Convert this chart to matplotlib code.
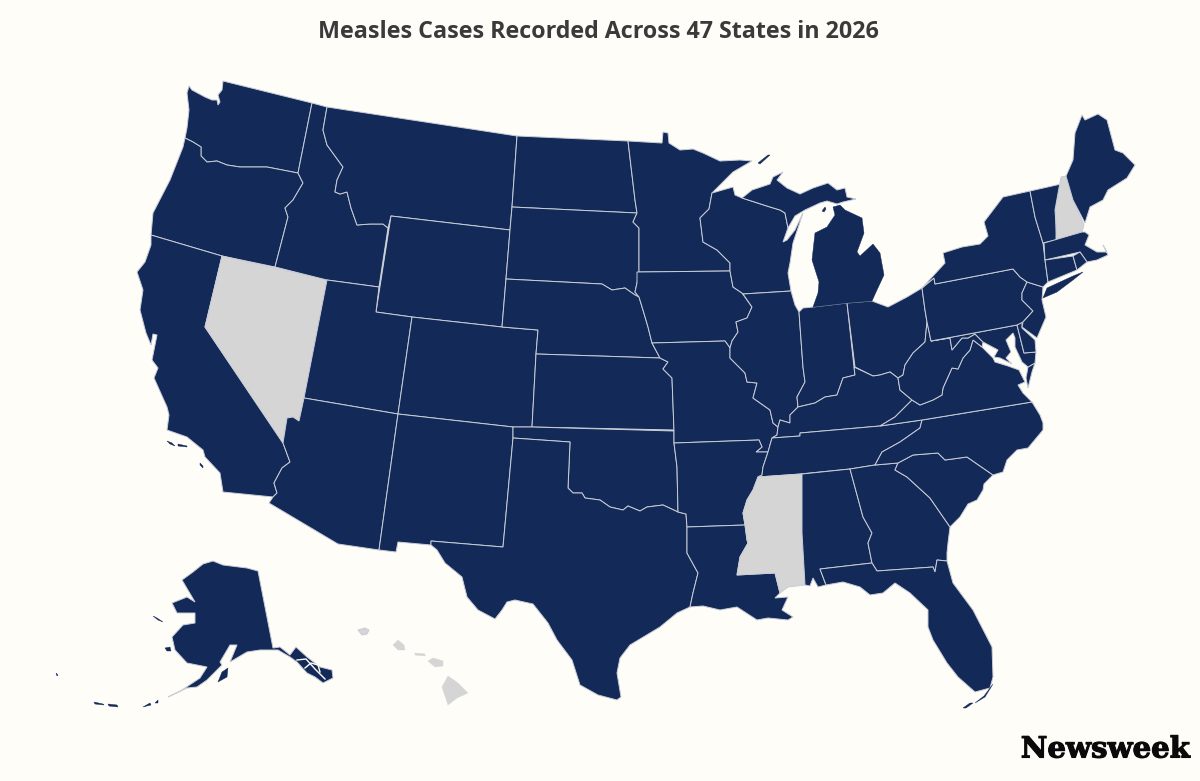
import matplotlib
matplotlib.use('Agg')
import matplotlib.pyplot as plt
import matplotlib.patheffects as pe
from matplotlib.patches import Polygon

BG = '#fffdf8'
NAVY = '#132958'
GREY = '#d5d5d5'
EDGE = '#c9cdd6'

TITLE = 'Measles Cases Recorded Across 47 States in 2026'
STATES_WITHOUT_CASES = ['NV', 'MS', 'NH', 'HI']

# state outlines, in picture pixels (x, y)
WA = [(187,93),(189,86),(192,90),(205,97),(212,100),(217,100),(218,105),(220,102),(218,95),(222,90),(223,81),(312,103),(298,173),(267,167),(240,167),(227,165),(217,161),(207,162),(201,156),(201,147),(193,142),(185,138),(187,128),(189,110)]
OR = [(185,138),(193,142),(201,147),(201,156),(207,162),(217,161),(227,165),(240,167),(267,167),(298,173),(303,183),(293,200),(285,208),(288,217),(275,267),(222,256),(151,235),(153,213),(170,180),(183,147)]
CA = [(151,235),(222,256),(205,327),(283,443),(290,462),(282,468),(274,483),(277,493),(273,497),(223,492),(220,473),(205,457),(203,450),(187,437),(167,430),(169,415),(167,407),(154,378),(158,368),(152,360),(155,345),(157,335),(153,334),(151,345),(146,333),(140,310),(143,290),(137,272),(145,262),(151,245)]
CA_ISLAND_A = [(167,441),(172,443),(175,446),(170,444)]
CA_ISLAND_B = [(178,444),(187,446),(187,447),(178,446)]
CA_ISLAND_C = [(200,463),(203,466),(203,468),(200,465)]
NV = [(222,256),(327,280),(304,398),(299,421),(293,417),(287,418),(283,443),(205,327)]
ID = [(312,103),(327,107),(323,130),(327,145),(343,167),(337,180),(335,192),(340,194),(347,192),(351,208),(357,225),(370,224),(383,224),(388,228),(379,287),(327,280),(275,267),(288,217),(285,208),(293,200),(303,183),(298,173)]
MT = [(327,107),(517,136),(512,207),(510,230),(391,216),(388,228),(383,224),(370,224),(357,225),(351,208),(347,192),(340,194),(335,192),(337,180),(343,167),(327,145),(323,130)]
WY = [(391,216),(510,230),(506,279),(502,327),(412,317),(376,312)]
UT = [(327,280),(379,287),(376,312),(412,317),(398,414),(304,398)]
CO = [(412,317),(502,327),(538,330),(536,354),(532,427),(513,427),(398,414)]
AZ = [(304,398),(398,414),(379,550),(338,544),(269,503),(273,497),(277,493),(274,483),(282,468),(290,462),(283,443),(287,418),(293,417),(299,421)]
NM = [(398,414),(513,427),(513,438),(503,547),(431,541),(431,545),(398,542),(396,552),(379,550)]
ND = [(517,136),(628,141),(635,200),(637,213),(512,207)]
SD = [(512,207),(637,213),(633,222),(639,228),(639,272),(637,283),(635,292),(639,297),(635,295),(625,288),(612,290),(602,284),(506,279),(510,230)]
NE = [(506,279),(602,284),(612,290),(625,288),(635,295),(639,297),(643,310),(648,327),(652,343),(660,358),(536,354),(538,330),(502,327)]
KS = [(536,354),(660,358),(668,362),(663,369),(672,378),(674,430),(532,427)]
OK = [(513,427),(532,427),(674,431),(674,443),(677,467),(678,512),(663,505),(647,507),(640,511),(628,506),(623,510),(610,507),(600,500),(585,498),(582,493),(573,493),(568,488),(570,442),(513,438)]
TX = [(513,438),(570,442),(568,488),(573,493),(582,493),(585,498),(600,500),(610,507),(623,510),(628,506),(640,511),(647,507),(663,505),(678,512),(686,514),(687,527),(687,553),(698,573),(693,593),(690,607),(677,613),(660,627),(630,645),(620,658),(617,673),(621,697),(617,700),(598,695),(580,685),(572,660),(557,640),(548,623),(533,604),(515,600),(507,602),(502,610),(495,619),(478,610),(467,597),(462,577),(445,563),(437,550),(431,545),(431,541),(503,547)]
MN = [(628,141),(662,143),(663,132),(668,133),(669,143),(680,150),(693,149),(703,153),(720,161),(740,160),(752,161),(733,172),(712,193),(709,209),(700,218),(703,242),(717,250),(730,263),(730,271),(639,272),(639,228),(633,222),(637,213),(635,200)]
IA = [(637,272),(730,271),(733,287),(742,293),(752,307),(747,318),(736,322),(738,332),(732,341),(730,348),(725,341),(652,343),(648,327),(643,310),(639,297),(635,292),(637,283)]
MO = [(652,343),(725,341),(730,348),(730,358),(745,373),(747,382),(757,383),(753,398),(770,410),(773,423),(778,427),(777,435),(772,438),(768,452),(756,452),(762,447),(759,440),(674,443),(674,431),(672,378),(663,369),(668,362),(660,358)]
AR = [(674,443),(759,440),(762,447),(756,452),(768,452),(763,467),(762,475),(758,477),(753,490),(747,500),(743,513),(745,525),(687,527),(686,514),(678,512),(677,467)]
LA = [(687,527),(745,525),(747,540),(748,543),(740,557),(737,575),(775,573),(780,593),(775,598),(788,597),(782,610),(793,617),(788,620),(768,618),(757,620),(737,607),(720,610),(703,606),(690,607),(693,593),(698,573),(687,553)]
WI = [(712,193),(733,187),(735,195),(742,198),(770,207),(780,210),(785,213),(788,228),(783,242),(787,240),(795,230),(801,217),(803,213),(798,228),(793,243),(790,263),(788,273),(791,291),(743,294),(742,293),(733,287),(730,271),(730,263),(717,250),(703,242),(700,218),(709,209)]
IL = [(743,294),(791,291),(795,305),(799,312),(803,367),(805,382),(797,397),(798,407),(790,415),(790,423),(780,420),(778,427),(773,423),(770,410),(753,398),(757,383),(747,382),(745,373),(730,358),(730,348),(732,341),(738,332),(736,322),(747,318),(752,307)]
IN = [(799,312),(803,308),(813,307),(847,303),(854,367),(855,375),(843,378),(837,395),(825,397),(815,403),(798,407),(797,397),(805,382),(803,367)]
OH = [(847,303),(872,301),(888,307),(907,297),(922,288),(925,310),(927,322),(925,342),(913,353),(905,365),(903,375),(898,378),(890,372),(880,375),(873,376),(855,367)]
MI_UPPER = [(742,198),(752,190),(770,184),(773,177),(783,172),(777,180),(787,188),(800,194),(813,188),(828,183),(837,190),(845,188),(847,197),(856,199),(843,202),(837,204),(827,201),(820,203),(805,210),(795,216),(788,228),(785,213),(780,210),(770,207)]
MI_LOWER = [(833,207),(840,205),(845,210),(862,218),(864,233),(857,252),(860,256),(873,244),(880,253),(884,275),(877,290),(872,301),(847,303),(813,307),(818,293),(819,282),(812,260),(815,233),(827,227),(835,215)]
MI_ISLE_ROYALE = [(758,163),(768,155),(770,155),(760,164)]
MI_BEAVER = [(822,211),(825,207),(826,209),(824,212)]
KY = [(778,427),(780,420),(790,423),(790,415),(798,407),(815,403),(825,397),(837,395),(843,378),(855,375),(854,367),(873,376),(880,375),(890,372),(898,378),(900,390),(912,400),(895,417),(880,426),(800,433),(800,436),(772,438),(777,435)]
TN = [(772,438),(800,436),(800,433),(880,426),(922,420),(920,428),(900,442),(882,452),(875,465),(850,469),(800,474),(758,477),(762,475),(763,467),(768,452)]
MS = [(758,477),(802,474),(802,533),(805,585),(788,587),(780,593),(775,573),(737,575),(740,557),(748,543),(747,540),(745,525),(743,513),(747,500),(753,490)]
AL = [(802,474),(850,469),(863,517),(872,533),(868,543),(872,563),(820,569),(826,585),(818,587),(813,578),(810,586),(805,585),(802,533)]
GA = [(850,469),(875,465),(898,463),(895,470),(907,477),(930,498),(950,527),(948,543),(947,553),(947,561),(937,560),(935,572),(933,567),(877,571),(872,563),(868,543),(872,533),(863,517)]
FL = [(820,569),(872,563),(877,571),(933,567),(935,572),(937,560),(947,561),(953,583),(973,610),(992,647),(993,677),(990,688),(975,692),(958,677),(947,663),(933,640),(928,627),(928,610),(910,593),(895,583),(883,593),(870,595),(860,587),(843,582),(826,585)]
FL_KEYS = [(993,684),(985,697),(975,703),(984,696)]
FL_KEYS_W = [(963,708),(970,703),(973,703),(966,708)]
SC = [(898,463),(913,455),(938,453),(945,460),(967,457),(993,475),(984,484),(983,490),(977,500),(968,504),(960,517),(950,527),(930,498),(907,477),(895,470)]
NC = [(922,420),(1032,402),(1040,415),(1043,423),(1043,430),(1033,442),(1028,448),(1017,450),(1007,460),(1003,472),(993,475),(967,457),(945,460),(938,453),(913,455),(898,463),(875,465),(882,452),(900,442),(920,428)]
VA = [(880,426),(895,417),(912,400),(920,405),(933,400),(942,395),(943,388),(952,368),(958,369),(963,358),(970,350),(973,340),(982,347),(993,358),(995,362),(1008,366),(1019,370),(1025,382),(1018,385),(1023,393),(1032,402),(922,420)]
VA_SHORE = [(1035,363),(1028,367),(1026,378),(1028,388),(1032,372)]
WV = [(927,322),(931,341),(950,338),(952,350),(962,338),(968,338),(975,334),(983,342),(982,347),(973,340),(970,350),(963,358),(958,369),(952,368),(943,388),(942,395),(933,400),(920,405),(912,400),(900,390),(898,378),(903,375),(905,365),(913,353),(925,342)]
MD = [(931,341),(1017,325),(1024,353),(1036,352),(1035,363),(1028,367),(1022,362),(1015,347),(1015,338),(1013,333),(1006,340),(1011,352),(1006,358),(1012,364),(1000,358),(994,357),(998,350),(983,342),(975,334),(968,338),(962,338),(952,350),(950,338)]
DE = [(1017,325),(1022,322),(1022,328),(1035,340),(1036,352),(1024,353)]
PA = [(922,288),(934,278),(935,284),(1013,269),(1020,277),(1027,282),(1022,293),(1022,300),(1033,311),(1023,322),(1017,325),(931,341),(927,322),(925,310)]
NJ = [(1027,282),(1043,287),(1042,300),(1046,317),(1037,338),(1022,327),(1023,322),(1033,311),(1022,300),(1022,293)]
NY = [(922,288),(945,263),(943,253),(962,247),(980,244),(988,236),(984,222),(1003,197),(1030,191),(1035,217),(1043,243),(1045,260),(1048,282),(1043,287),(1027,282),(1020,277),(1013,269),(935,284),(934,278)]
LONG_ISLAND = [(1043,298),(1047,288),(1073,276),(1083,272),(1073,280),(1057,292)]
VT = [(1030,191),(1061,184),(1056,208),(1056,240),(1043,243),(1035,217)]
NH = [(1061,177),(1066,176),(1073,200),(1084,225),(1082,232),(1057,240),(1055,210)]
ME = [(1066,176),(1073,160),(1075,133),(1082,115),(1085,120),(1098,114),(1107,120),(1115,150),(1123,153),(1135,165),(1127,178),(1108,190),(1103,200),(1090,207),(1085,223),(1073,200)]
MA = [(1044,243),(1082,232),(1085,232),(1089,235),(1085,245),(1097,252),(1107,252),(1103,245),(1108,255),(1097,260),(1087,262),(1080,252),(1045,260)]
CT = [(1045,260),(1073,256),(1077,270),(1048,282)]
RI = [(1073,256),(1080,252),(1087,262),(1077,270)]
AK = [(213,561),(223,565),(247,568),(258,571),(273,648),(280,647),(290,655),(296,647),(307,657),(320,667),(332,670),(333,678),(323,683),(315,677),(307,673),(297,662),(290,657),(278,650),(260,650),(247,652),(230,662),(237,645),(230,645),(220,662),(222,665),(207,680),(197,687),(187,688),(168,697),(182,690),(200,678),(207,667),(197,665),(187,663),(175,650),(172,637),(183,625),(195,623),(195,613),(177,613),(172,603),(187,597),(195,602),(182,580),(193,572),(203,564)]
AK_KODIAK = [(218,682),(222,672),(228,668),(227,677)]
AK_ST_LAWRENCE = [(153,616),(157,618),(163,622),(158,620)]
AK_NUNIVAK = [(165,648),(170,647),(171,651),(167,651)]
AK_ALEUTIANS_A = [(94,702),(103,704),(104,705),(95,704)]
AK_ALEUTIANS_B = [(108,704),(117,705),(118,707),(109,706)]
AK_ALEUTIANS_C = [(143,707),(150,703),(151,705)]
AK_ALEUTIANS_D = [(155,703),(158,700),(158,703)]
AK_PRIBILOF = [(56,673),(58,675),(57,676)]
# inside passage channels between the panhandle islands
AK_CHANNEL_A = [(297,660),(306,659),(315,669),(325,679)]
AK_CHANNEL_B = [(305,668),(311,663),(318,665),(320,672)]
HI_KAUAI = [(358,630),(365,628),(369,630),(367,634),(362,635)]
HI_OAHU = [(393,645),(398,640),(404,645),(405,650),(398,650)]
HI_MOLOKAI = [(415,653),(425,654),(425,656),(415,655)]
HI_MAUI = [(428,661),(433,658),(443,661),(443,666),(435,667)]
HI_BIG = [(448,676),(458,683),(468,693),(457,698),(448,705),(442,687)]

STATES = {
    'WA': [WA], 'OR': [OR], 'CA': [CA, CA_ISLAND_A, CA_ISLAND_B, CA_ISLAND_C], 'NV': [NV], 'ID': [ID],
    'MT': [MT], 'WY': [WY], 'UT': [UT], 'CO': [CO], 'AZ': [AZ], 'NM': [NM], 'ND': [ND], 'SD': [SD],
    'NE': [NE], 'KS': [KS], 'OK': [OK], 'TX': [TX], 'MN': [MN], 'IA': [IA], 'MO': [MO], 'AR': [AR],
    'LA': [LA], 'WI': [WI], 'IL': [IL], 'IN': [IN], 'OH': [OH],
    'MI': [MI_UPPER, MI_LOWER, MI_ISLE_ROYALE, MI_BEAVER], 'KY': [KY], 'TN': [TN], 'MS': [MS], 'AL': [AL],
    'GA': [GA], 'FL': [FL, FL_KEYS, FL_KEYS_W], 'SC': [SC], 'NC': [NC], 'VA': [VA, VA_SHORE], 'WV': [WV],
    'MD': [MD], 'DE': [DE], 'PA': [PA], 'NJ': [NJ], 'NY': [NY, LONG_ISLAND], 'VT': [VT], 'NH': [NH],
    'ME': [ME], 'MA': [MA], 'CT': [CT], 'RI': [RI],
    'AK': [AK, AK_KODIAK, AK_ST_LAWRENCE, AK_NUNIVAK, AK_ALEUTIANS_A, AK_ALEUTIANS_B, AK_ALEUTIANS_C,
           AK_ALEUTIANS_D, AK_PRIBILOF],
    'HI': [HI_KAUAI, HI_OAHU, HI_MOLOKAI, HI_MAUI, HI_BIG],
}

fig = plt.figure(figsize=(12, 7.81), dpi=100, facecolor=BG)
ax = fig.add_axes([0, 0, 1, 1])
ax.set_xlim(0, 1200)
ax.set_ylim(781, 0)
ax.axis('off')

for state, parts in STATES.items():
    colour = GREY if state in STATES_WITHOUT_CASES else NAVY
    for i, part in enumerate(parts):
        # islands get no outline, it would wash them out at this size
        if i == 0 or state == 'VA':
            ax.add_patch(Polygon(part, closed=True, facecolor=colour, edgecolor=EDGE, linewidth=0.7))
        else:
            ax.add_patch(Polygon(part, closed=True, facecolor=colour, edgecolor=colour, linewidth=0.3))

for channel in [AK_CHANNEL_A, AK_CHANNEL_B]:
    ax.plot(*zip(*channel), color=BG, linewidth=1.0)

ax.text(598, 32.5, TITLE, ha='center', va='center', fontsize=16.75, fontweight='bold',
        family='Open Sans', color='#3a3a3a')
ax.text(1190, 749, 'Newsweek', ha='right', va='center', fontsize=21, fontweight='bold',
        family='DejaVu Serif', color='#0a0a0a',
        path_effects=[pe.withStroke(linewidth=0.8, foreground='#0a0a0a')])

fig.savefig('out.png', dpi=100, facecolor=BG)
